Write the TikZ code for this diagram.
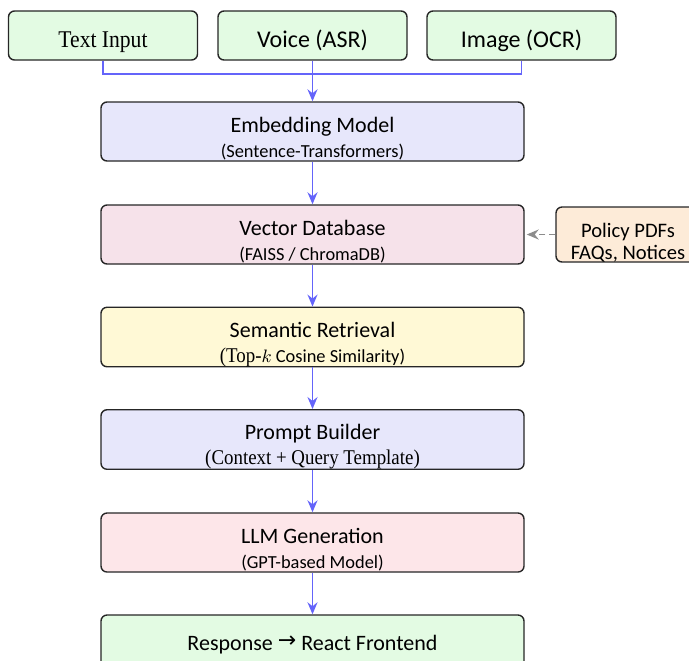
\documentclass[tikz,border=0pt]{standalone}
\usepackage{fontspec}
\setsansfont{Carlito}
\newfontfamily\narrowserif[FakeStretch=0.9]{Liberation Serif}
\newfontfamily\arrowfont{DejaVu Sans}
\usetikzlibrary{arrows.meta,calc,positioning}
\definecolor{InputGreen}{HTML}{E3FBE3}
\definecolor{EmbedLavender}{HTML}{E7E7FB}
\definecolor{StorePink}{HTML}{F6E2EA}
\definecolor{RetrieveYellow}{HTML}{FFF9D6}
\definecolor{GenPink}{HTML}{FDE6E9}
\definecolor{SourcePeach}{HTML}{FDEBD8}
\definecolor{FlowBlue}{HTML}{6464FA}
\tikzset{
  inputbox/.style={draw=black!85,line width=.7pt,rounded corners=3pt,fill=InputGreen,
    minimum width=94.5pt,minimum height=24.5pt,text height=12pt,text depth=0pt,
    font=\sffamily\fontsize{12}{14}\selectfont},
  stage/.style={draw=black!85,line width=.7pt,rounded corners=3pt,
    minimum width=211.5pt,minimum height=29.5pt,align=center,inner sep=0pt,
    font=\sffamily\fontsize{11}{12.5}\selectfont},
  sourcebox/.style={draw=black!85,line width=.7pt,rounded corners=3pt,fill=SourcePeach,
    minimum width=72pt,minimum height=27.5pt,align=center,inner sep=0pt,
    font=\sffamily\fontsize{10.3}{11}\selectfont},
  flow/.style={-{Stealth[length=6pt,width=5pt,inset=2pt]},draw=FlowBlue,line width=.9pt},
  feed/.style={draw=FlowBlue,line width=.9pt},
  source/.style={-{Stealth[length=6pt,width=5pt,inset=2pt]},draw=black!45,line width=.9pt,
    dash pattern=on 3pt off 2pt}
}
\newcommand{\stagetext}[2]{\rule{0pt}{15pt}#1\\{\fontsize{9.2}{10}\selectfont #2}}
\begin{document}
\begin{tikzpicture}[x=.5pt,y=-.5pt]
  \useasboundingbox (0,0) rectangle (689,660);
  % inputs
  \node[inputbox,font=\narrowserif\fontsize{12}{14}\selectfont] (txt) at (103,35.5) {Text Input};
  \node[inputbox] (voice) at (312.5,35.5) {Voice (ASR)};
  \node[inputbox] (img) at (521.5,35.5) {Image (OCR)};
  % pipeline
  \node[stage,fill=EmbedLavender] (emb) at (312.5,131.5) {\stagetext{Embedding Model}{(Sentence-Transformers)}};
  \node[stage,fill=StorePink] (vdb) at (312.5,234.5) {\stagetext{Vector Database}{(FAISS / ChromaDB)}};
  \node[stage,fill=RetrieveYellow] (ret) at (312.5,337) {\stagetext{Semantic Retrieval}{{\narrowserif\fontsize{10.5}{10}\selectfont(Top-}$k$ Cosine Similarity)}};
  \node[stage,fill=EmbedLavender] (prm) at (312.5,439.5) {\stagetext{Prompt Builder}{\narrowserif\fontsize{10.5}{10}\selectfont(Context + Query Template)}};
  \node[stage,fill=GenPink] (llm) at (312.5,542.5) {\stagetext{LLM Generation}{(GPT-based Model)}};
  \node[stage,fill=InputGreen] (out) at (312.5,644.5) {Response {\arrowfont\fontsize{11}{12}\selectfont\raisebox{1.5pt}{→}} React Frontend};
  \node[sourcebox] (docs) at (628,234.5) {\rule{0pt}{15pt}Policy PDFs\\FAQs, Notices};
  % connectors
  \draw[feed] (txt.south) -- ++(0,13) -| (img.south);
  \draw[flow] (voice.south) -- (emb.north);
  \draw[flow] (emb) -- (vdb);
  \draw[flow] (vdb) -- (ret);
  \draw[flow] (ret) -- (prm);
  \draw[flow] (prm) -- (llm);
  \draw[flow] (llm) -- (out);
  \draw[source] (docs.west) -- ($(vdb.east)+(2,0)$);
\end{tikzpicture}
\end{document}
